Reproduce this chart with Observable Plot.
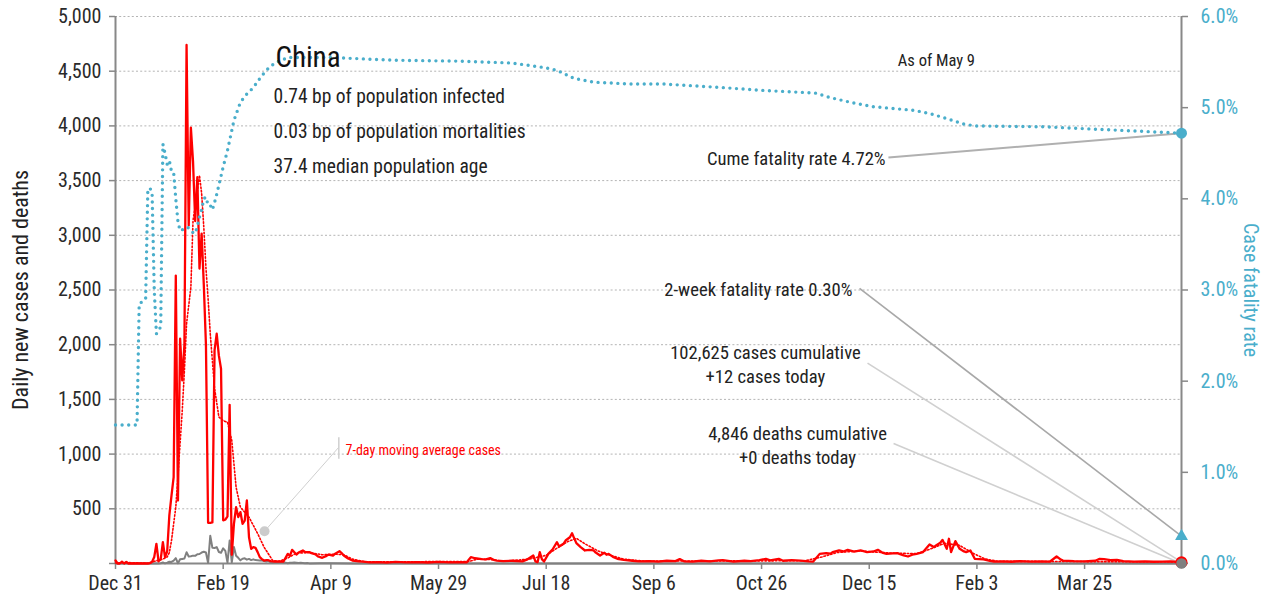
<!DOCTYPE html>
<html><head><meta charset="utf-8">
<script src="https://cdn.jsdelivr.net/npm/d3@7"></script>
<script src="https://cdn.jsdelivr.net/npm/@observablehq/plot@0.6"></script>
<style>
body{margin:0;background:#fff;}
#chart svg{display:block}
</style></head><body><div id="chart"></div>
<script>
// ---------- data (day offset from Dec 31, 2019 , value) ----------
const startDate = "2019-12-31";
const endDay = 495; // May 9, 2021

const cases = [[0,27],[1,0],[2,0],[3,17],[4,0],[5,15],[6,0],[7,0],[8,0],[9,0],[10,0],[11,0],[12,0],[13,0],[14,0],[15,0],[16,4],[17,17],[18,60],[19,180],[20,20],[21,40],[22,195],[23,58],[24,110],[25,440],[26,620],[27,790],[28,2632],[29,576],[30,2055],[31,1674],[32,2000],[33,4740],[34,3089],[35,3985],[36,3676],[37,3130],[38,3531],[39,2696],[40,3016],[41,2550],[42,2000],[43,372],[44,372],[45,375],[46,1950],[47,2100],[48,1900],[49,1780],[50,395],[51,400],[52,430],[53,1450],[54,80],[55,363],[56,515],[57,424],[58,470],[59,363],[60,393],[61,576],[62,240],[63,134],[64,150],[65,143],[66,104],[67,58],[68,40],[69,27],[70,30],[71,30],[72,22],[74,18],[76,20],[78,18],[80,88],[81,70],[82,125],[84,82],[85,100],[87,119],[88,105],[90,104],[91,95],[93,82],[94,65],[96,52],[98,70],[99,82],[101,73],[102,90],[104,113],[105,95],[106,73],[108,45],[110,27],[113,20],[115,18],[118,10],[122,12],[126,8],[130,14],[135,10],[140,12],[145,9],[150,14],[155,10],[160,12],[163,10],[165,58],[167,48],[170,40],[172,38],[174,49],[176,30],[177,27],[180,22],[184,25],[189,20],[191,35],[194,73],[195,20],[196,12],[197,104],[198,40],[199,18],[201,88],[203,130],[205,195],[206,155],[208,180],[209,210],[211,240],[212,277],[213,230],[214,186],[216,150],[218,119],[220,125],[222,119],[223,100],[225,73],[227,98],[228,80],[229,88],[231,60],[233,43],[236,34],[240,25],[243,20],[248,22],[252,18],[256,25],[260,22],[262,40],[264,20],[268,18],[272,25],[276,20],[280,28],[282,30],[287,18],[292,25],[295,22],[299,30],[302,43],[304,28],[308,43],[310,25],[314,30],[318,27],[322,20],[324,18],[327,88],[330,95],[332,90],[333,104],[336,119],[338,110],[340,125],[343,108],[346,119],[349,104],[352,110],[354,125],[356,100],[358,88],[361,92],[363,95],[366,75],[368,64],[370,80],[372,88],[375,104],[377,150],[378,174],[380,150],[381,165],[383,190],[384,216],[386,134],[387,226],[388,104],[390,204],[392,134],[394,110],[395,104],[397,119],[399,43],[401,40],[403,37],[406,25],[408,18],[412,20],[416,16],[420,22],[425,18],[430,20],[434,18],[437,64],[439,35],[440,27],[445,22],[450,20],[455,25],[457,43],[459,40],[462,30],[465,34],[468,22],[473,18],[478,20],[482,16],[486,18],[490,20],[493,15],[495,12]];

const avg7 = [[0,5],[6,8],[16,2],[18,20],[22,40],[24,60],[25,100],[26,210],[28,515],[29,800],[30,1100],[31,1398],[32,1765],[33,2192],[35,2526],[36,3135],[38,3400],[39,3547],[40,3382],[41,3074],[42,2700],[43,2420],[44,2100],[45,1850],[46,1600],[48,1340],[50,1305],[52,1292],[54,1124],[56,697],[58,515],[62,423],[66,274],[69,149],[73,27],[76,20],[80,50],[84,95],[90,100],[96,80],[102,85],[106,80],[110,40],[116,15],[164,18],[168,40],[175,35],[180,20],[192,40],[200,75],[205,140],[210,200],[214,230],[218,180],[224,115],[230,75],[236,40],[245,22],[320,25],[328,60],[335,100],[345,115],[360,95],[372,90],[378,130],[385,185],[392,165],[398,95],[404,40],[410,20],[495,15]];

const deaths = [[0,0],[10,0],[11,1],[12,0],[20,0],[21,3],[22,9],[23,1],[24,8],[25,16],[26,14],[27,26],[28,49],[29,2],[30,38],[31,42],[32,46],[33,103],[34,64],[35,66],[36,72],[37,70],[38,85],[39,87],[40,100],[41,107],[42,100],[43,5],[44,254],[45,143],[46,142],[47,150],[48,105],[49,98],[50,139],[51,115],[52,8],[53,210],[54,10],[55,150],[56,71],[57,52],[58,29],[59,44],[60,47],[61,35],[62,42],[63,31],[64,38],[65,31],[66,30],[67,28],[68,27],[69,22],[70,17],[71,22],[72,11],[73,7],[74,13],[75,10],[76,14],[77,13],[78,11],[79,8],[80,3],[81,7],[82,6],[83,9],[84,7],[85,4],[86,6],[87,5],[88,3],[89,5],[90,1],[95,3],[100,2],[110,1],[120,0],[200,1],[495,0]];

// cumulative case fatality rate, percent
const cfr = [[0,1.52],[10,1.52],[11,2.85],[13,2.88],[14,2.9],[15,4.09],[16,4.12],[17,4.06],[18,3.0],[19,2.52],[20,2.55],[21,2.6],[22,4.6],[23,4.5],[24,4.38],[25,4.42],[26,4.3],[27,4.29],[28,4.0],[29,3.75],[30,3.65],[31,3.66],[32,3.68],[33,3.69],[34,3.68],[35,3.65],[36,3.63],[37,3.62],[38,3.7],[39,3.8],[40,3.88],[41,4.0],[42,4.02],[43,3.93],[44,3.93],[45,3.88],[46,3.96],[47,4.05],[48,4.15],[49,4.25],[50,4.35],[52,4.53],[55,4.86],[58,5.06],[61,5.15],[64,5.22],[67,5.32],[70,5.41],[74,5.49],[80,5.55],[100,5.55],[130,5.52],[160,5.51],[184,5.49],[199,5.44],[205,5.41],[213,5.32],[222,5.28],[238,5.26],[254,5.26],[282,5.22],[300,5.19],[325,5.16],[332,5.11],[341,5.06],[352,5.01],[371,4.97],[379,4.93],[386,4.88],[394,4.82],[399,4.80],[431,4.79],[468,4.75],[495,4.72]];

const leftTicks = [0,500,1000,1500,2000,2500,3000,3500,4000,4500,5000];
const rightTicks = [0,1,2,3,4,5,6];
const xTickDays = [0,50,100,150,200,250,300,350,400,450];
const xTickLabels = ["Dec 31","Feb 19","Apr 9","May 29","Jul 18","Sep 6","Oct 26","Dec 15","Feb 3","Mar 25"];

const countryName = "China";
const infoLines = ["0.74 bp of population infected","0.03 bp of population mortalities","37.4 median population age"];
const asOfText = "As of May 9";
const cumeRate = 4.72, twoWeekRate = 0.30, casesToday = 12, deathsToday = 0;
const cumeText = "Cume fatality rate 4.72%";
const twoWeekText = "2-week fatality rate 0.30%";
const casesText = "102,625 cases cumulative\n+12 cases today";
const deathsText = "4,846 deaths cumulative\n+0 deaths today";
const avgLabel = "7-day moving average cases";
const leftTitle = "Daily new cases and deaths";
const rightTitle = "Case fatality rate";

// ---------- helpers ----------
const t0 = new Date(startDate + "T00:00:00Z");
const day = n => new Date(t0.getTime() + n * 864e5);
const K = 5000 / 6; // percent -> left-axis units
const FONT = "'Liberation Sans Narrow','Roboto Condensed',Roboto,sans-serif";
const CYAN = "#4aaecb";
const xLabelMap = new Map(xTickDays.map((d, i) => [+day(d), xTickLabels[i]]));
const P = () => ({x: d => day(d[0]), y: d => d[1]});
const fmt = d3.format(",");

const end = day(endDay);

const chart = Plot.plot({
  width: 1271, height: 604,
  marginLeft: 115, marginRight: 90, marginTop: 16, marginBottom: 41,
  style: {fontFamily: FONT, fontSize: "20px", color: "#222", background: "#fff", overflow: "visible"},
  x: {type: "utc", domain: [day(0), end]},
  y: {domain: [0, 5000]},
  marks: [
    Plot.ruleY(leftTicks.filter(d => d > 0), {stroke: "#b4b4b4", strokeDasharray: "2,2.2", strokeWidth: 1}),
    Plot.axisY(leftTicks, {anchor: "left", tickFormat: d => d === 0 ? "" : fmt(d), tickSize: 6, tickPadding: 8, stroke: "#888", strokeWidth: 1.5, fill: "#2a2a2a", fontSize: 20, label: null}),
    Plot.axisY(rightTicks.map(p => p * K), {anchor: "right", tickFormat: d => (d / K).toFixed(1) + "%", tickSize: 6, tickPadding: 13, stroke: "#888", strokeWidth: 1.5, fill: CYAN, fontSize: 20, label: null}),
    Plot.axisX(xTickDays.map(day), {anchor: "bottom", tickFormat: d => xLabelMap.get(+d), tickSize: 6, tickPadding: 6, stroke: "#888", strokeWidth: 1.5, fill: "#2a2a2a", fontSize: 20, label: null}),
    Plot.ruleX([day(0)], {stroke: "#888", strokeWidth: 2}),
    Plot.ruleX([end], {stroke: "#888", strokeWidth: 2}),
    Plot.ruleY([0], {stroke: "#888", strokeWidth: 2}),

    // leader lines
    Plot.link([{x1: day(358.9), y1: 3711, x2: end, y2: cumeRate * K}], {x1: "x1", y1: "y1", x2: "x2", y2: "y2", stroke: "#b0b0b0", strokeWidth: 2}),
    Plot.link([{x1: day(345.5), y1: 2514, x2: end, y2: twoWeekRate * K}], {x1: "x1", y1: "y1", x2: "x2", y2: "y2", stroke: "#a8a8a8", strokeWidth: 1.6}),
    Plot.link([{x1: day(349.2), y1: 1831, x2: end, y2: casesToday}], {x1: "x1", y1: "y1", x2: "x2", y2: "y2", stroke: "#d0d0d0", strokeWidth: 1.6}),
    Plot.link([{x1: day(361.3), y1: 1097, x2: end, y2: deathsToday}], {x1: "x1", y1: "y1", x2: "x2", y2: "y2", stroke: "#d0d0d0", strokeWidth: 1.6}),
    Plot.link([{x1: day(69.2), y1: 295, x2: day(103.7), y2: 1063}], {x1: "x1", y1: "y1", x2: "x2", y2: "y2", stroke: "#cfcfcf", strokeWidth: 1}),
    Plot.link([{x1: day(103.7), y1: 957, x2: day(103.7), y2: 1154}], {x1: "x1", y1: "y1", x2: "x2", y2: "y2", stroke: "#cfcfcf", strokeWidth: 1.5}),
    Plot.dot([{x: day(69.2), y: 295}], {x: "x", y: "y", r: 5, fill: "#cccccc"}),

    // series
    Plot.line(deaths, {...P(), stroke: "#808080", strokeWidth: 2}),
    Plot.line(avg7, {...P(), stroke: "#ff0000", strokeWidth: 1.6, strokeDasharray: "1.5,2"}),
    Plot.line(cases, {...P(), stroke: "#ff0000", strokeWidth: 2.3}),
    Plot.line(cfr, {x: d => day(d[0]), y: d => d[1] * K, stroke: CYAN, strokeWidth: 3.4, strokeDasharray: "0,6.6", strokeLinecap: "round"}),

    // end markers
    Plot.dot([{x: end, y: casesToday}], {x: "x", y: "y", r: 6, fill: "#ff0000"}),
    Plot.dot([{x: end, y: deathsToday}], {x: "x", y: "y", r: 5.3, fill: "#808080"}),
    Plot.dot([{x: end, y: cumeRate * K}], {x: "x", y: "y", r: 5.5, fill: CYAN}),
    Plot.dot([{x: end, y: twoWeekRate * K}], {x: "x", y: "y", r: 4.8, symbol: "triangle", fill: CYAN}),

    // annotations
    Plot.text([countryName], {x: day(74.3), y: 4534, text: d => d, textAnchor: "start", lineAnchor: "bottom", fontSize: 29, fill: "#111"}),
    Plot.text([infoLines.join("\n")], {x: day(73.4), y: 3574, text: d => d, textAnchor: "start", lineAnchor: "bottom", lineHeight: 35 / 19.5, fontSize: 19.5, fill: "#222"}),
    Plot.text([asOfText], {x: day(381.2), y: 4543, text: d => d, textAnchor: "middle", lineAnchor: "bottom", fontSize: 16.5, fill: "#222"}),
    Plot.text([cumeText], {x: day(357.6), y: 3647, text: d => d, textAnchor: "end", lineAnchor: "bottom", fontSize: 18.6, fill: "#222"}),
    Plot.text([twoWeekText], {x: day(342.2), y: 2441, text: d => d, textAnchor: "end", lineAnchor: "bottom", fontSize: 18.6, fill: "#222"}),
    Plot.text([casesText], {x: day(301.8), y: 1654, text: d => d, textAnchor: "middle", lineAnchor: "bottom", lineHeight: 24 / 18.6, fontSize: 18.6, fill: "#222"}),
    Plot.text([deathsText], {x: day(316.7), y: 905, text: d => d, textAnchor: "middle", lineAnchor: "bottom", lineHeight: 24 / 18.6, fontSize: 18.6, fill: "#222"}),
    Plot.text([avgLabel], {x: day(106.8), y: 996, text: d => d, textAnchor: "start", lineAnchor: "bottom", fontSize: 14, fill: "#ff0000"}),

    // axis titles
    Plot.text([leftTitle], {frameAnchor: "left", dx: -95, rotate: -90, textAnchor: "middle", text: d => d, fontSize: 22, fill: "#222"}),
    Plot.text([rightTitle], {frameAnchor: "right", dx: 69, rotate: 90, textAnchor: "middle", text: d => d, fontSize: 20, fill: CYAN})
  ]
});
document.getElementById("chart").appendChild(chart);
</script>
</body></html>
